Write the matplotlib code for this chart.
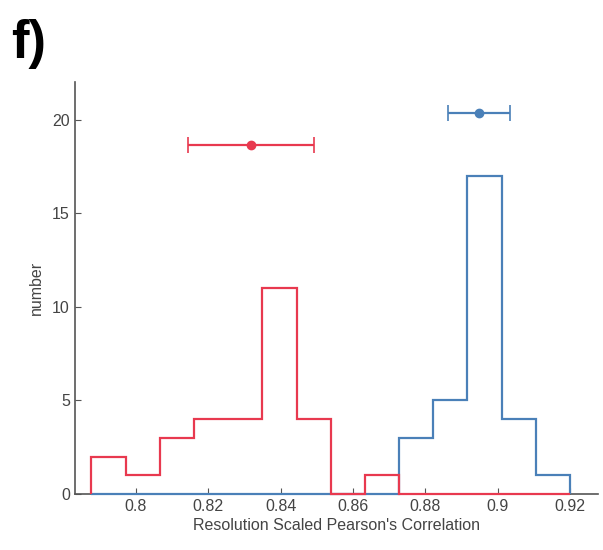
import matplotlib
matplotlib.use("Agg")
import matplotlib.pyplot as plt
import numpy as np

# shared histogram bin edges (14 bins)
bin_lo, bin_hi, n_bins = 0.7877, 0.92, 14
red_counts = [2, 1, 3, 4, 4, 11, 4, 0, 1, 0, 0, 0, 0, 0]
blue_counts = [0, 0, 0, 0, 0, 0, 0, 0, 0, 3, 5, 17, 4, 1]

# mean +/- spread markers above the histograms
red_mean, red_err, red_y = 0.8318, 0.0175, 18.65
blue_mean, blue_err, blue_y = 0.8948, 0.0085, 20.35

x_ticks = [0.8, 0.82, 0.84, 0.86, 0.88, 0.9, 0.92]
x_ticklabels = ["0.8", "0.82", "0.84", "0.86", "0.88", "0.9", "0.92"]
y_ticks = [0, 5, 10, 15, 20]

RED = "#e8394f"
BLUE = "#4a80b8"
GREY = "#555555"

plt.rcParams["font.family"] = ["Liberation Sans", "DejaVu Sans"]

edges = np.linspace(bin_lo, bin_hi, n_bins + 1)

fig = plt.figure(figsize=(6.03, 5.5), dpi=100)
ax = fig.add_axes([0.124, 0.1018, 0.868, 0.749])

ax.stairs(blue_counts, edges, baseline=0, color=BLUE, lw=1.6, zorder=3, clip_on=False)
ax.stairs(red_counts, edges, baseline=0, color=RED, lw=1.6, zorder=4, clip_on=False)

ax.errorbar([red_mean], [red_y], xerr=[red_err], fmt="o", color=RED,
            ms=6, lw=1.6, capsize=6, capthick=1.2, ecolor=RED)
ax.errorbar([blue_mean], [blue_y], xerr=[blue_err], fmt="o", color=BLUE,
            ms=6, lw=1.6, capsize=6, capthick=1.2, ecolor=BLUE)

ax.set_xlim(0.7831, 0.9278)
ax.set_ylim(0, 22)
ax.set_xticks(x_ticks)
ax.set_xticklabels(x_ticklabels)
ax.set_yticks(y_ticks)

for s in ("top", "right"):
    ax.spines[s].set_visible(False)
for s in ("left", "bottom"):
    ax.spines[s].set_color(GREY)
    ax.spines[s].set_linewidth(1.2)
    ax.spines[s].set_zorder(2)
ax.tick_params(direction="in", length=4, colors=GREY, labelsize=11.5, labelcolor="#444444")

ax.set_xlabel("Resolution Scaled Pearson's Correlation", fontsize=11.5, color="#444444", labelpad=3)
ax.set_ylabel("number", fontsize=11.5, color="#444444", labelpad=6)

fig.text(0.018, 0.966, "f)", fontsize=38, fontweight="bold", va="top", ha="left")

fig.savefig("out.png", dpi=100)
plt.close(fig)
